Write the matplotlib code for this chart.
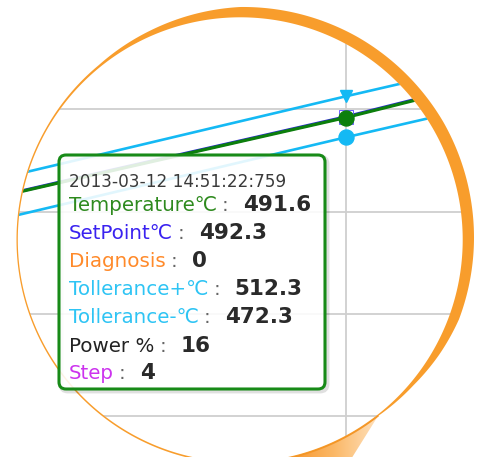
import numpy as np
import matplotlib
matplotlib.use("Agg")
import matplotlib.pyplot as plt
from matplotlib.path import Path
from matplotlib.patches import PathPatch, FancyBboxPatch
from matplotlib.ticker import MultipleLocator
from matplotlib.colors import LinearSegmentedColormap

# ---------------- data ----------------
t_sec = [-360, -240, -120, 0, 120]          # seconds relative to 14:51:22.759
temperature = [411.5, 438.4, 465.0, 491.6, 520.9]
setpoint = [411.9, 439.0, 465.6, 492.3, 521.6]
tol_plus = [429.1, 456.8, 484.6, 512.3, 539.3]
tol_minus = [389.1, 416.8, 444.6, 472.3, 499.3]
hover_index = 3

tooltip_time = "2013-03-12 14:51:22:759"
tooltip_labels = ["Temperature℃", "SetPoint℃", "Diagnosis", "Tollerance+℃",
                  "Tollerance-℃", "Power %", "Step"]
tooltip_values = ["491.6", "492.3", "0", "512.3", "472.3", "16", "4"]
tooltip_colors = ["#2e8a1e", "#3a22f0", "#ff8a2a", "#2ec4f4",
                  "#2ec4f4", "#222222", "#cc33ee"]

# ---------------- styles ----------------
W, H, DPI = 483, 457, 100
CYAN = "#14b9f4"
GREEN = "#0c7f0c"
BLUE = "#2b2bd0"
ORANGE = "#f89d2c"
GRID = "#cfcfcf"

fig = plt.figure(figsize=(W / DPI, H / DPI), dpi=DPI)
fig.patch.set_facecolor("white")

# chart axes (data scale: 1 px per second, 1.025 px per unit)
ax = fig.add_axes([0, 0, 1, 1])
x_px0 = 345.5
ax.set_xlim(-x_px0, W - x_px0)
y_scale = 1.025
ax.set_ylim(500 - (H - 109) / y_scale, 500 + 109 / y_scale)
ax.xaxis.set_major_locator(MultipleLocator(600))
ax.yaxis.set_major_locator(MultipleLocator(100))
ax.grid(True, color=GRID, lw=1.3)
ax.tick_params(length=0, labelbottom=False, labelleft=False)
for s in ax.spines.values():
    s.set_visible(False)
ax.set_axisbelow(True)

ax.plot(t_sec, tol_plus, color=CYAN, lw=1.9, solid_capstyle="butt", zorder=3)
ax.plot(t_sec, tol_minus, color=CYAN, lw=1.9, solid_capstyle="butt", zorder=3)
ax.plot(t_sec, setpoint, color=BLUE, lw=2.3, zorder=3)
ax.plot(t_sec, temperature, color=GREEN, lw=2.3, zorder=4)

h = hover_index
ax.plot(t_sec[h], tol_plus[h], marker="v", ms=9.3, color=CYAN, mec=CYAN, zorder=6)
ax.plot(t_sec[h], setpoint[h], marker="s", ms=10.2, mfc="none", mec="#6a5cff",
        mew=0.7, zorder=5)
ax.plot(t_sec[h], temperature[h], marker="o", ms=10.8, color=GREEN, mec=GREEN, zorder=6)
ax.plot(t_sec[h], tol_minus[h], marker="o", ms=10.8, color=CYAN, mec=CYAN, zorder=6)

# ---------------- overlay (pixel coordinates) ----------------
ov = fig.add_axes([0, 0, 1, 1], facecolor="none")
ov.set_xlim(0, W)
ov.set_ylim(H, 0)
ov.axis("off")

cx, cy, r_in = 240.25, 239.75, 222.75


def circle_pts(r, th):
    return np.column_stack([cx + r * np.cos(th), cy - r * np.sin(th)])


def closed_path(verts):
    verts = np.vstack([verts, verts[:1]])
    codes = [Path.MOVETO] + [Path.LINETO] * (len(verts) - 2) + [Path.CLOSEPOLY]
    return Path(verts, codes)


th = np.radians(np.linspace(-180, 180, 721))
# white mask outside the lens
rect = np.array([[-20, -20], [W + 20, -20], [W + 20, H + 20], [-20, H + 20]])
mask = Path.make_compound_path(closed_path(rect), closed_path(circle_pts(r_in, th)))
ov.add_patch(PathPatch(mask, facecolor="white", edgecolor="none", zorder=1))

# crescent ring
ang_k = [-180, -90, -60, -52, -40, -30, -20, 0, 30, 60, 90, 113, 129, 150, 180]
thk_k = [1.0, 1.4, 1.2, 1.0, 3.5, 7.0, 10.0, 11.0, 12.0, 11.5, 10.0, 5.0, 2.0, 1.2, 1.0]
thick = np.interp(np.degrees(th), ang_k, thk_k)
outer = np.column_stack([cx + (r_in + thick) * np.cos(th), cy - (r_in + thick) * np.sin(th)])
inner = circle_pts(r_in - 0.3, th)[::-1]
ring = Path.make_compound_path(closed_path(outer), closed_path(inner))
ov.add_patch(PathPatch(ring, facecolor=ORANGE, edgecolor="none", zorder=2))

# handle (gradient wedge)
th_h = np.radians(np.linspace(-52, -82, 40))
curve = circle_pts(r_in + 1.0, th_h)
tip = curve[0]
handle_verts = np.vstack([curve, [[350.5, H + 3]], [tip]])
handle = PathPatch(closed_path(handle_verts), facecolor="none", edgecolor="none", zorder=2)
ov.add_patch(handle)
gx = np.linspace(0, 1, 200)
grad = np.tile(gx, (60, 1))
cmap = LinearSegmentedColormap.from_list("h", ["#f7952a", "#fbb867", "#ffe2bf"])
im = ov.imshow(grad, extent=(288, 380, H + 3, 412), cmap=cmap, aspect="auto",
               interpolation="bilinear", zorder=2)
im.set_clip_path(handle)
ov.plot(curve[:, 0], curve[:, 1], color="#f39526", lw=1.0, zorder=2)
ov.set_xlim(0, W)
ov.set_ylim(H, 0)

# tooltip
bx, by, bw, bh = 59, 155, 266, 234
shadow = FancyBboxPatch((bx + 2, by + 2), bw, bh, boxstyle="round,pad=0,rounding_size=7",
                        facecolor="none", edgecolor="#000000", alpha=0.12, lw=3.5, zorder=3)
ov.add_patch(shadow)
box = FancyBboxPatch((bx, by), bw, bh, boxstyle="round,pad=0,rounding_size=7",
                     facecolor=(1, 1, 1, 0.88), edgecolor="#178a17", lw=2.2, zorder=4)
ov.add_patch(box)

ov.text(69, 187.3, tooltip_time, fontsize=12.2, color="#3a3a3a",
        va="baseline", ha="left", zorder=5)
baselines = [210.7, 239.3, 267.3, 295.3, 323.3, 351.7, 379.3]
label_objs = []
for lab, col, yb in zip(tooltip_labels, tooltip_colors, baselines):
    label_objs.append(ov.text(69, yb, lab, fontsize=14.3, color=col,
                              va="baseline", ha="left", zorder=5))

fig.canvas.draw()
renderer = fig.canvas.get_renderer()
for tobj, val, yb in zip(label_objs, tooltip_values, baselines):
    x1 = tobj.get_window_extent(renderer).x1
    ov.text(x1 + 5, yb, ":", fontsize=14.3, color="#666666", va="baseline",
            ha="left", zorder=5)
    ov.text(x1 + 26, yb, val, fontsize=15.5, fontweight="bold", color="#2a2a2a",
            va="baseline", ha="left", zorder=5)

fig.savefig("out.png", dpi=DPI)
